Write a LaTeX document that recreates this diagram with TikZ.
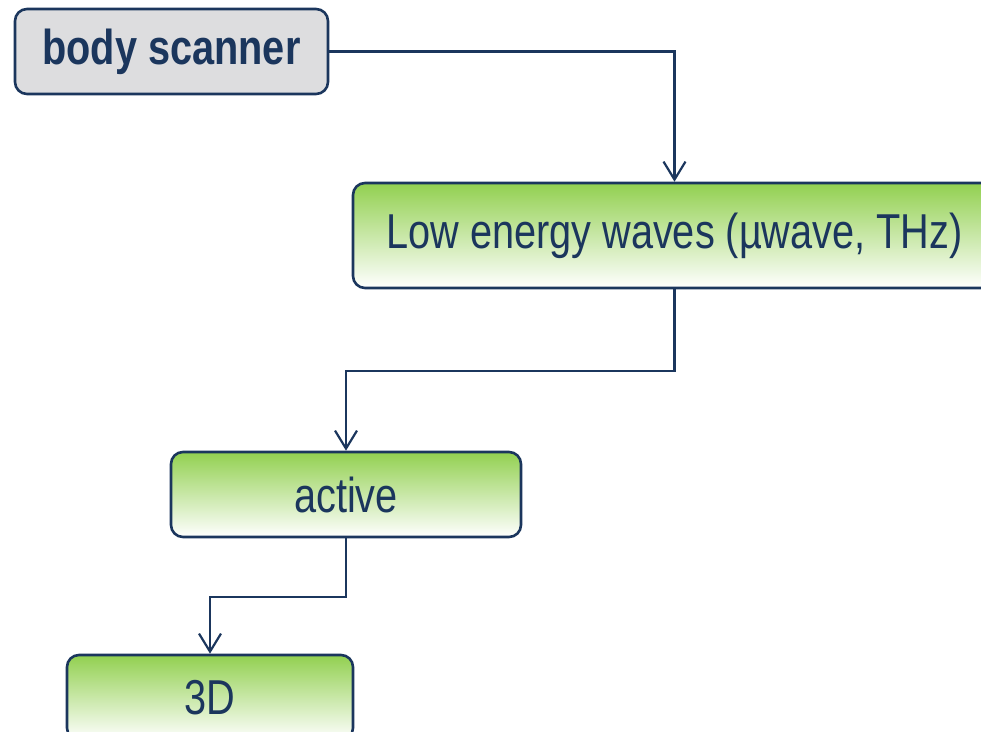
\documentclass[tikz,border=0pt]{standalone}
\usepackage{fontspec}
\setmainfont{Liberation Sans}[FakeStretch=0.81]
\usepackage{xcolor}
\usepackage{tikz}
\usetikzlibrary{arrows.meta, positioning, calc}

\definecolor{navy}{HTML}{1B365D}
\definecolor{scangray}{HTML}{DDDDDF}
\definecolor{leafgreen}{HTML}{92D050}

\begin{document}
\begin{tikzpicture}[x=0.5pt,y=-0.5pt,
    box/.style={rectangle,draw=navy,line width=1.3pt,rounded corners=6pt,
        text=navy,font=\fontsize{24.5}{29}\selectfont,inner sep=0pt},
    greenbox/.style={box,top color=leafgreen,bottom color=white},
    link/.style={draw=navy,line width=1.1pt,-{Straight Barb[length=9pt,width=11pt]}}]
    \clip (0,0) rectangle (981,732);
    \node[box,fill=scangray,minimum width=156.5pt,minimum height=42.5pt,font=\fontsize{24.5}{29}\selectfont\bfseries] (scanner) at (171.5,51.5) {body scanner};
    \node[greenbox,minimum width=321.5pt,minimum height=52.5pt] (waves) at (674.5,235.5) {Low energy waves (µwave, THz)};
    \node[greenbox,minimum width=175pt,minimum height=42.5pt] (active) at (346,494.5) {active};
    \node[greenbox,minimum width=143pt,minimum height=42.5pt] (threed) at (210,697.5) {3D};
    \draw[link] (scanner.east) -| (waves.north);
    \draw[link] (waves.south) -- ++(0,82) -| (active.north);
    \draw[link] (active.south) -- ++(0,59) -| (threed.north);
\end{tikzpicture}
\end{document}
